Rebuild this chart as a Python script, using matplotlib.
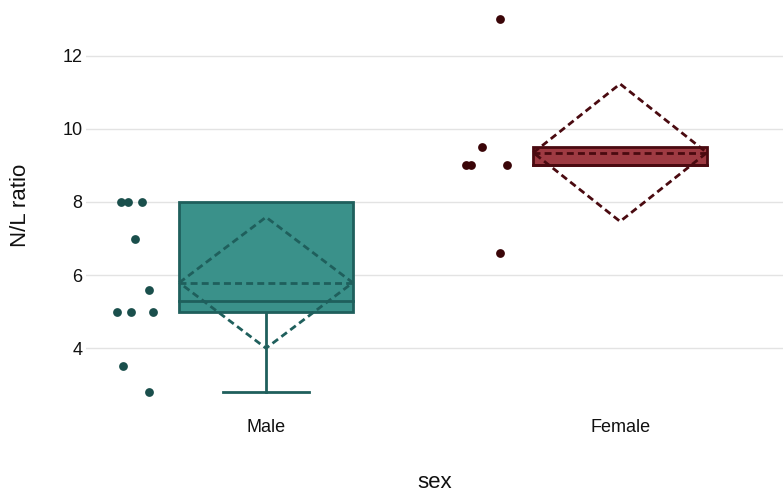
import numpy as np
import matplotlib.pyplot as plt

plt.rcParams['font.family'] = ['Liberation Sans', 'DejaVu Sans']

# data
groups = ["Male", "Female"]
male = [8, 8, 8, 7, 5.6, 5, 5, 5, 3.5, 2.8]
female = [13, 9.5, 9, 9, 9, 6.6]
# horizontal jitter of the points (category units, relative to the point column)
male_jit = [-0.04, -0.02, 0.02, 0.0, 0.04, -0.05, -0.01, 0.05, -0.035, 0.04]
female_jit = [0.03, -0.02, -0.065, -0.05, 0.05, 0.03]

fills = ["#3a918a", "#9e3a42"]
edges = ["#1f5f5c", "#4a0a10"]
dots = ["#1a4f4c", "#3a0508"]

fig = plt.figure(figsize=(7.83, 4.93), dpi=100)
ax = fig.add_axes([0.110, 0.168, 0.890, 0.832])

half = 0.245
for i, (vals, jit) in enumerate([(male, male_jit), (female, female_jit)]):
    v = np.array(vals)
    s = np.sort(v)
    n = len(s)
    # quartiles as medians of the lower / upper halves
    q1 = np.median(s[: n // 2])
    q3 = np.median(s[(n + 1) // 2:])
    med = np.median(s)
    iqr = q3 - q1
    lo = s[s >= q1 - 1.5 * iqr].min()
    hi = s[s <= q3 + 1.5 * iqr].max()
    mean = v.mean()
    sd = v.std()

    ax.add_patch(plt.Rectangle((i - half, q1), 2 * half, q3 - q1,
                               facecolor=fills[i], edgecolor=edges[i], lw=2, zorder=3))
    ax.plot([i - half, i + half], [med, med], color=edges[i], lw=2, zorder=4)
    ax.plot([i, i], [lo, q1], color=edges[i], lw=2, zorder=2)
    ax.plot([i, i], [q3, hi], color=edges[i], lw=2, zorder=2)
    if lo < q1:
        ax.plot([i - half / 2, i + half / 2], [lo, lo], color=edges[i], lw=2, zorder=2)
    if hi > q3:
        ax.plot([i - half / 2, i + half / 2], [hi, hi], color=edges[i], lw=2, zorder=2)
    # mean and sd diamond
    ax.plot([i - half, i + half], [mean, mean], color=edges[i], lw=2, ls=(0, (2.5, 1.5)), zorder=5)
    ax.plot([i - half, i, i + half, i, i - half],
            [mean, mean + sd, mean, mean - sd, mean],
            color=edges[i], lw=2, ls=(0, (2.5, 1.5)), zorder=5)
    # all points, shifted to the left of the box
    ax.scatter(i - 0.37 + np.array(jit), v, s=40, color=dots[i], zorder=6, linewidths=0)

ax.set_xlim(-0.508, 1.46)
ax.set_ylim(2.3, 13.53)
ax.set_xticks([0, 1])
ax.set_xticklabels(groups)
ax.set_yticks([4, 6, 8, 10, 12])
ax.yaxis.grid(True, color="#e3e3e3", lw=1)
ax.set_axisbelow(True)
for sp in ax.spines.values():
    sp.set_visible(False)
ax.tick_params(length=0, labelsize=13, colors="#111111")
ax.tick_params(axis="x", pad=6)
ax.tick_params(axis="y", pad=2.5)
ax.set_xlabel("sex", fontsize=16, labelpad=26, color="#111111")
ax.set_ylabel("N/L ratio", fontsize=16, labelpad=23, color="#111111")

fig.savefig("out.png", dpi=100)
